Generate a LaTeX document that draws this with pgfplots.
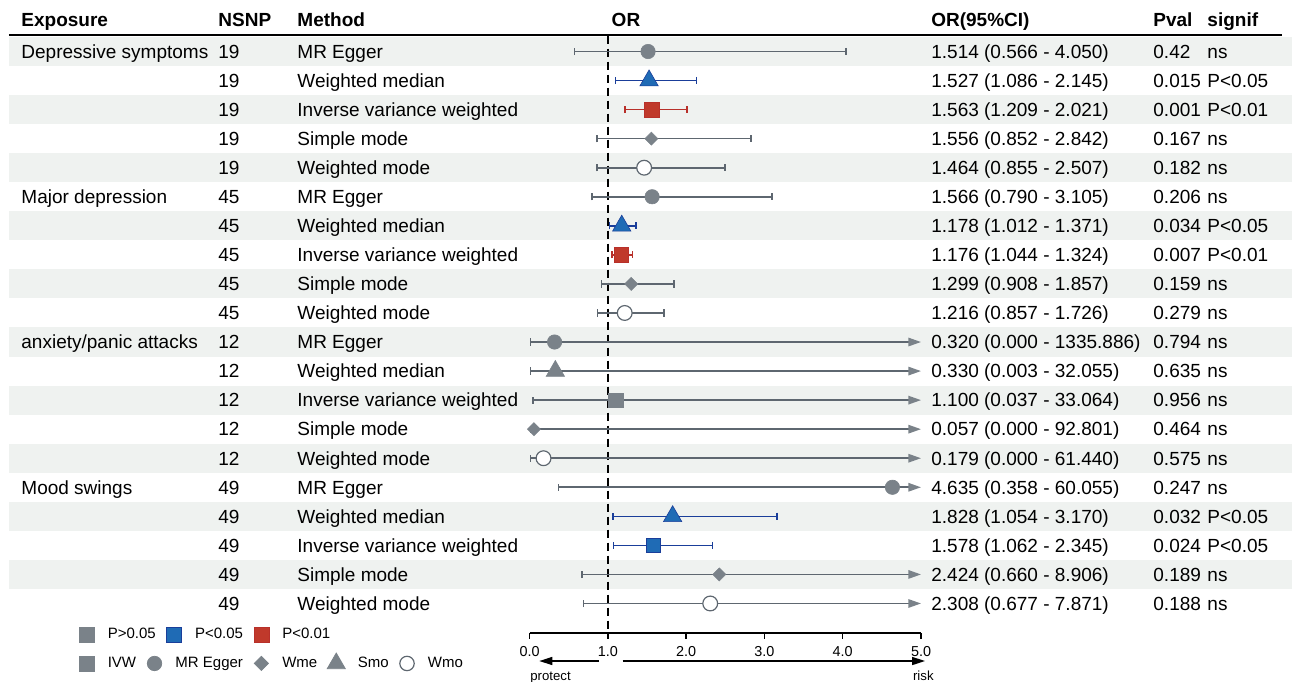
\documentclass[border=0pt]{standalone}
\usepackage{fontspec}
\setmainfont{Liberation Sans}
\usepackage{pgfplots}
\pgfplotsset{compat=1.18}
\usetikzlibrary{arrows.meta}
\definecolor{bandc}{HTML}{EFF2F0}
\definecolor{gfill}{HTML}{7A8289}
\definecolor{gline}{HTML}{5E6770}
\definecolor{bfill}{HTML}{1F6BB5}
\definecolor{bline}{HTML}{1A3E9A}
\definecolor{rfill}{HTML}{C0392B}
\definecolor{rline}{HTML}{B8302A}
\tikzset{
  tx/.style={anchor=base west, inner sep=0pt, font=\fontsize{9.5}{11}\selectfont, yshift=-3.4pt},
  hd/.style={anchor=base west, inner sep=0pt, font=\fontsize{9.5}{11}\selectfont\bfseries, yshift=-3.4pt},
  ci/.style={line width=0.8pt, {Bar[width=3.6pt]}-{Bar[width=3.6pt]}},
  cia/.style={line width=0.8pt, color=gline, {Bar[width=3.6pt]}-{Triangle[length=6.3pt,width=4.2pt,fill=gfill,color=gfill]}},
}
\newcommand{\trow}[7]{%
  \node[tx] at (axis cs:-6.494,#1) {#2};
  \node[tx] at (axis cs:-3.978,#1) {#3};
  \node[tx] at (axis cs:-2.969,#1) {#4};
  \node[tx] at (axis cs:5.127,#1) {#5};
  \node[tx] at (axis cs:7.963,#1) {#6};
  \node[tx] at (axis cs:8.653,#1) {#7};
}
\pgfplotsset{
  legax/.style={scale only axis, width=646pt, height=340.5pt, hide axis,
    xmin=0, xmax=1, ymin=0, ymax=1, clip=false, legend columns=-1,
    legend cell align=left,
    legend image code/.code={\path (0pt,0pt) (8pt,0pt); \draw[##1] plot coordinates {(4pt,0pt)};},
    legend style={anchor=west, draw=none, fill=none, inner sep=0pt, outer sep=0pt,
      font=\fontsize{7.5}{9}\selectfont, nodes={inner sep=0pt},
      /tikz/every odd column/.append style={column sep=6.25pt},
      /tikz/every even column/.append style={column sep=5.0pt}}},
}
\begin{document}
\begin{tikzpicture}
\begin{axis}[name=main, scale only axis, width=646pt, height=340.5pt,
  xmin=-6.7625, xmax=9.7382, ymin=-0.7728, ymax=22.669, y dir=reverse,
  hide axis, clip=false]
% bands
\fill[bandc] (axis cs:-6.648,0.5) rectangle (axis cs:9.7382,1.5);
\fill[bandc] (axis cs:-6.648,2.5) rectangle (axis cs:9.7382,3.5);
\fill[bandc] (axis cs:-6.648,4.5) rectangle (axis cs:9.7382,5.5);
\fill[bandc] (axis cs:-6.648,6.5) rectangle (axis cs:9.7382,7.5);
\fill[bandc] (axis cs:-6.648,8.5) rectangle (axis cs:9.7382,9.5);
\fill[bandc] (axis cs:-6.648,10.5) rectangle (axis cs:9.7382,11.5);
\fill[bandc] (axis cs:-6.648,12.5) rectangle (axis cs:9.7382,13.5);
\fill[bandc] (axis cs:-6.648,14.5) rectangle (axis cs:9.7382,15.5);
\fill[bandc] (axis cs:-6.648,16.5) rectangle (axis cs:9.7382,17.5);
\fill[bandc] (axis cs:-6.648,18.5) rectangle (axis cs:9.7382,19.5);
% header
\node[hd] at (axis cs:-6.494,-0.0843) {Exposure};
\node[hd] at (axis cs:-3.978,-0.0843) {NSNP};
\node[hd] at (axis cs:-2.969,-0.0843) {Method};
\node[hd, anchor=base] at (axis cs:1.232,-0.0843) {OR};
\node[hd] at (axis cs:5.127,-0.0843) {OR(95\%CI)};
\node[hd] at (axis cs:7.963,-0.0843) {Pval};
\node[hd] at (axis cs:8.653,-0.0843) {signif};
\draw[line width=0.8pt] (axis cs:-6.648,0.432) -- (axis cs:9.610,0.432);
% reference line
\draw[line width=0.75pt, dash pattern=on 4pt off 2.5pt] (axis cs:1,0.45) -- (axis cs:1,21.016);
% table rows
\trow{1}{Depressive symptoms}{19}{MR Egger}{1.514 (0.566 - 4.050)}{0.42}{ns}
\trow{2}{}{19}{Weighted median}{1.527 (1.086 - 2.145)}{0.015}{P<0.05}
\trow{3}{}{19}{Inverse variance weighted}{1.563 (1.209 - 2.021)}{0.001}{P<0.01}
\trow{4}{}{19}{Simple mode}{1.556 (0.852 - 2.842)}{0.167}{ns}
\trow{5}{}{19}{Weighted mode}{1.464 (0.855 - 2.507)}{0.182}{ns}
\trow{6}{Major depression}{45}{MR Egger}{1.566 (0.790 - 3.105)}{0.206}{ns}
\trow{7}{}{45}{Weighted median}{1.178 (1.012 - 1.371)}{0.034}{P<0.05}
\trow{8}{}{45}{Inverse variance weighted}{1.176 (1.044 - 1.324)}{0.007}{P<0.01}
\trow{9}{}{45}{Simple mode}{1.299 (0.908 - 1.857)}{0.159}{ns}
\trow{10}{}{45}{Weighted mode}{1.216 (0.857 - 1.726)}{0.279}{ns}
\trow{11}{anxiety/panic attacks}{12}{MR Egger}{0.320 (0.000 - 1335.886)}{0.794}{ns}
\trow{12}{}{12}{Weighted median}{0.330 (0.003 - 32.055)}{0.635}{ns}
\trow{13}{}{12}{Inverse variance weighted}{1.100 (0.037 - 33.064)}{0.956}{ns}
\trow{14}{}{12}{Simple mode}{0.057 (0.000 - 92.801)}{0.464}{ns}
\trow{15}{}{12}{Weighted mode}{0.179 (0.000 - 61.440)}{0.575}{ns}
\trow{16}{Mood swings}{49}{MR Egger}{4.635 (0.358 - 60.055)}{0.247}{ns}
\trow{17}{}{49}{Weighted median}{1.828 (1.054 - 3.170)}{0.032}{P<0.05}
\trow{18}{}{49}{Inverse variance weighted}{1.578 (1.062 - 2.345)}{0.024}{P<0.05}
\trow{19}{}{49}{Simple mode}{2.424 (0.660 - 8.906)}{0.189}{ns}
\trow{20}{}{49}{Weighted mode}{2.308 (0.677 - 7.871)}{0.188}{ns}
% confidence intervals
\addplot[ci, gline] coordinates {(0.566,1) (4.050,1)};
\addplot[ci, bline] coordinates {(1.086,2) (2.145,2)};
\addplot[ci, rline] coordinates {(1.209,3) (2.021,3)};
\addplot[ci, gline] coordinates {(0.852,4) (2.842,4)};
\addplot[ci, gline] coordinates {(0.855,5) (2.507,5)};
\addplot[ci, gline] coordinates {(0.790,6) (3.105,6)};
\addplot[ci, bline] coordinates {(1.012,7) (1.371,7)};
\addplot[ci, rline] coordinates {(1.044,8) (1.324,8)};
\addplot[ci, gline] coordinates {(0.908,9) (1.857,9)};
\addplot[ci, gline] coordinates {(0.857,10) (1.726,10)};
\addplot[cia] coordinates {(0.000,11) (5,11)};
\addplot[cia] coordinates {(0.003,12) (5,12)};
\addplot[cia] coordinates {(0.037,13) (5,13)};
\addplot[cia] coordinates {(0.000,14) (5,14)};
\addplot[cia] coordinates {(0.000,15) (5,15)};
\addplot[cia] coordinates {(0.358,16) (5,16)};
\addplot[ci, bline] coordinates {(1.054,17) (3.170,17)};
\addplot[ci, bline] coordinates {(1.062,18) (2.345,18)};
\addplot[cia] coordinates {(0.660,19) (5,19)};
\addplot[cia] coordinates {(0.677,20) (5,20)};
% point estimates
\addplot[only marks, mark=*, mark size=3.6pt, mark options={fill=gfill, draw=gfill, line width=0.3pt}]
  coordinates {(1.514,1) (1.566,6) (0.320,11) (4.635,16)};
\addplot[only marks, mark=triangle*, mark size=5.3pt, mark options={fill=bfill, draw=bline, line width=0.3pt}]
  coordinates {(1.527,2) (1.178,7) (1.828,17)};
\addplot[only marks, mark=triangle*, mark size=5.3pt, mark options={fill=gfill, draw=gfill, line width=0.3pt}]
  coordinates {(0.330,12)};
\addplot[only marks, mark=square*, mark size=3.6pt, mark options={fill=rfill, draw=rline, line width=0.3pt}]
  coordinates {(1.563,3) (1.176,8)};
\addplot[only marks, mark=square*, mark size=3.6pt, mark options={fill=gfill, draw=gfill, line width=0.3pt}]
  coordinates {(1.100,13)};
\addplot[only marks, mark=square*, mark size=3.6pt, mark options={fill=bfill, draw=bline, line width=0.3pt}]
  coordinates {(1.578,18)};
\addplot[only marks, mark=square*, mark size=2.3pt, mark options={rotate=45, fill=gfill, draw=gfill, line width=0.3pt}]
  coordinates {(1.556,4) (1.299,9) (0.057,14) (2.424,19)};
\addplot[only marks, mark=*, mark size=3.7pt, mark options={fill=white, draw=gline, line width=0.6pt}]
  coordinates {(1.464,5) (1.216,10) (0.179,15) (2.308,20)};
% bottom axis
\draw[line width=0.7pt] (axis cs:0,21.016) -- (axis cs:5,21.016);
\pgfplotsinvokeforeach{0,1,2,3,4,5}{
  \draw[line width=0.7pt] (axis cs:#1,21.016) -- (axis cs:#1,21.22);
  \node[inner sep=0pt, font=\fontsize{7.2}{8}\selectfont] at (axis cs:#1,21.67) {#1.0};
}
\draw[line width=0.8pt, -{Triangle[length=6.5pt,width=4pt]}] (axis cs:0.8876,21.98) -- (axis cs:0.125,21.98);
\draw[line width=0.8pt, -{Triangle[length=6.5pt,width=4pt]}] (axis cs:1.190,21.98) -- (axis cs:5.051,21.98);
\node[anchor=base west, inner sep=0pt, font=\fontsize{6.6}{8}\selectfont] at (axis cs:0.006,22.635) {protect};
\node[anchor=base east, inner sep=0pt, font=\fontsize{6.6}{8}\selectfont] at (axis cs:5.166,22.635) {risk};
\end{axis}
% legend row 1
\begin{axis}[legax, legend style={at={(0.06076,0.0675)}}]
\addlegendimage{only marks, mark=square*, mark size=3.75pt, mark options={fill=gfill, draw=gfill}}
\addlegendentry{P>0.05}
\addlegendimage{only marks, mark=square*, mark size=3.75pt, mark options={fill=bfill, draw=bline}}
\addlegendentry{P<0.05}
\addlegendimage{only marks, mark=square*, mark size=3.75pt, mark options={fill=rfill, draw=rline}}
\addlegendentry{P<0.01}
\end{axis}
% legend row 2
\begin{axis}[legax, legend style={at={(0.06076,0.0279)}}]
\addlegendimage{only marks, mark=square*, mark size=3.75pt, mark options={fill=gfill, draw=gfill}}
\addlegendentry{IVW}
\addlegendimage{only marks, mark=*, mark size=3.6pt, mark options={fill=gfill, draw=gfill}}
\addlegendentry{MR Egger}
\addlegendimage{only marks, mark=square*, mark size=2.5pt, mark options={rotate=45, fill=gfill, draw=gfill}}
\addlegendentry{Wme}
\addlegendimage{only marks, mark=triangle*, mark size=5.2pt, mark options={fill=gfill, draw=gfill}}
\addlegendentry{Smo}
\addlegendimage{only marks, mark=*, mark size=3.6pt, mark options={fill=white, draw=gline, line width=0.6pt}}
\addlegendentry{Wmo}
\end{axis}
\pgfresetboundingbox
\path[use as bounding box] (main.south west) rectangle (main.north east);
\end{tikzpicture}
\end{document}
